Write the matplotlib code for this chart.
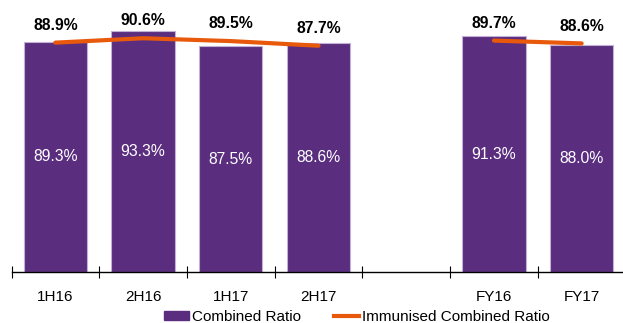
import numpy as np
import matplotlib
matplotlib.use("Agg")
import matplotlib.pyplot as plt
from matplotlib.patches import Patch
from matplotlib.lines import Line2D

# chart data
categories = ["1H16", "2H16", "1H17", "2H17", "", "FY16", "FY17"]
combined_ratio = [89.3, 93.3, 87.5, 88.6, np.nan, 91.3, 88.0]
immunised_ratio = [88.9, 90.6, 89.5, 87.7, np.nan, 89.7, 88.6]

purple = "#5A2D7F"
orange = "#E8590C"

plt.rcParams["font.family"] = ["Liberation Sans", "DejaVu Sans"]

fig = plt.figure(figsize=(6.23, 3.23), dpi=100)
ax = fig.add_axes([11.5 / 623, 51 / 323, 614 / 623, 258 / 323])

x = np.arange(len(categories))
bars = ax.bar(x, combined_ratio, width=0.72, color=purple,
              edgecolor="#c2b0d6", linewidth=0.8, zorder=2)
ax.plot(x, immunised_ratio, color=orange, lw=3, solid_capstyle="round", zorder=3)

# white labels in the middle of the bars
for xi, v in zip(x, combined_ratio):
    if np.isnan(v):
        continue
    ax.text(xi, v / 2, f"{v:.1f}%", color="white", ha="center", va="center",
            fontsize=11.3)

# bold labels above the line
for xi, v in zip(x, immunised_ratio):
    if np.isnan(v):
        continue
    ax.annotate(f"{v:.1f}%", (xi, v), xytext=(0, 12.5), textcoords="offset points",
                ha="center", va="center", fontsize=11.3, fontweight="bold",
                annotation_clip=False)

ax.set_xlim(-0.5, len(categories) - 0.5)
ax.set_ylim(0, 100)

for side in ["top", "right", "left"]:
    ax.spines[side].set_visible(False)
ax.spines["bottom"].set_linewidth(1.0)
ax.set_yticks([])

ax.set_xticks(x)
ax.set_xticklabels(categories, fontsize=11)
ax.tick_params(axis="x", which="major", length=0, pad=13)
ax.set_xticks(np.arange(-0.5, len(categories), 1.0), minor=True)
ax.tick_params(axis="x", which="minor", direction="inout", length=8, width=0.8)

handles = [Patch(facecolor=purple, edgecolor=purple),
           Line2D([0], [0], color=orange, lw=3)]
fig.legend(handles, ["Combined Ratio", "Immunised Combined Ratio"],
           loc="center", bbox_to_anchor=(357 / 623, 6 / 323), ncol=2,
           frameon=False, fontsize=11, handlelength=1.6, handleheight=0.5,
           handletextpad=0.2, columnspacing=2.2, borderpad=0)

fig.savefig("out.png", dpi=100)
